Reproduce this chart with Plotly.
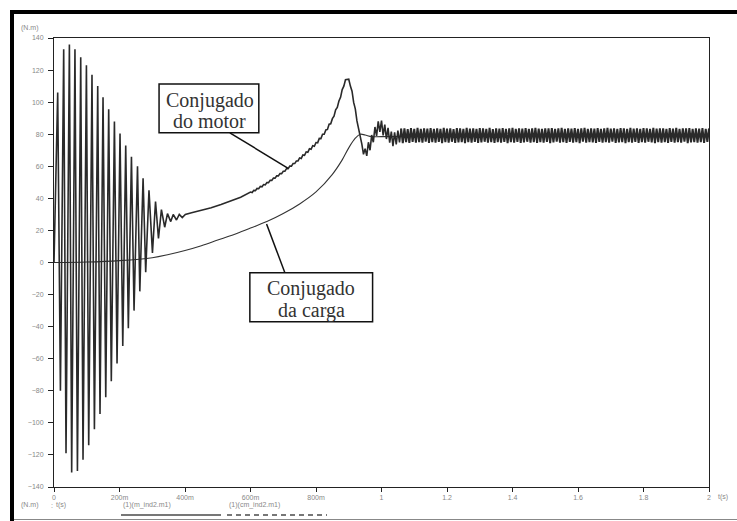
import numpy as np
import plotly.graph_objects as go

# ---------------- data (t in s, torque in N.m) ----------------
# Motor torque: start-up oscillation extrema and early rise
motor_start_t = [0.0, 0.0113, 0.0196, 0.0296, 0.0367, 0.047, 0.054, 0.064, 0.0715, 0.0816,
                 0.0886, 0.099, 0.106, 0.116, 0.1234, 0.1335, 0.1405, 0.1497, 0.158, 0.167,
                 0.175, 0.1845, 0.1925, 0.2016, 0.21, 0.219, 0.227, 0.2365, 0.2444, 0.255,
                 0.262, 0.272, 0.280, 0.290, 0.3006, 0.310, 0.319, 0.328, 0.338, 0.3465,
                 0.3565, 0.364, 0.374, 0.3825, 0.3917, 0.401, 0.42, 0.45, 0.48, 0.51,
                 0.54, 0.57]
motor_start_y = [0, 106, -80, 133, -119, 136, -131, 133, -130, 128,
                 -123, 123, -114, 117, -104, 110, -94.5, 103, -84, 95.5,
                 -74, 88, -63, 80.5, -52, 73, -41, 66, -30, 60,
                 -18, 52.5, -6, 45, 6, 38, 15, 33, 22, 30.5,
                 25.5, 30, 26.5, 30, 28, 30, 31, 32.5, 34.2, 36.2,
                 38.3, 40.7]

# Motor torque: 0.600 s .. 1.060 s sampled every 5 ms (rise, peak, settling)
motor_mid_t0 = 0.600
motor_mid_dt = 0.005
motor_mid_y = [43.9, 43.6, 45.0, 44.8, 46.2, 46.0, 47.4, 47.2, 48.6, 48.4,
               49.9, 49.8, 51.3, 51.2, 52.7, 52.6, 54.1, 54.0, 55.5, 55.4,
               56.9, 56.9, 58.5, 58.5, 60.1, 60.1, 61.7, 61.7, 63.3, 63.3,
               65.2, 64.9, 67.1, 66.8, 69.0, 68.7, 70.9, 70.6, 72.8, 72.5,
               74.8, 74.6, 77.4, 77.3, 80.0, 80.0, 82.7, 83.0, 86.2, 86.5,
               89.7, 91.2, 95.2, 96.7, 100.7,
               103.0, 107.8, 110.0, 114.0, 114.0, 114.3, 110.0, 106.8, 99.8, 95.8,
               88.3, 83.8, 77.3, 73.8,
               67.5, 71.0, 66.5, 75.0, 70.0, 79.5, 75.0, 84.5, 79.0, 88.0,
               81.5, 88.5, 79.3, 86.0, 77.0, 84.0, 74.8, 81.6, 72.5, 81.1,
               73.7, 82.3, 74.9, 83.5]

# Motor torque: steady-state ripple 1.065 s .. 2.000 s every 5 ms
motor_ss_t0 = 1.065
motor_ss_dt = 0.005
motor_ss_y = [74.5, 83.6, 75.0, 83.2, 74.6, 83.8, 75.2, 83.4, 74.8, 83.9, 75.1, 83.3, 74.7, 83.7, 75.3, 83.5, 74.6, 83.8, 75.0, 83.4,
              74.8, 83.6, 75.2, 83.3, 74.5, 83.9, 75.0, 83.5, 74.7, 83.7, 75.3, 83.2, 74.6, 83.8, 74.9, 83.6, 75.1, 83.4, 74.5, 83.9,
              75.0, 83.5, 74.7, 83.7, 75.2, 83.3, 74.6, 83.8, 74.9, 83.6, 75.3, 83.4, 74.8, 83.9, 75.0, 83.2, 74.6, 83.7, 75.1, 83.5,
              74.7, 83.8, 75.2, 83.4, 74.5, 83.6, 75.0, 83.9, 74.8, 83.3, 75.2, 83.7, 74.6, 83.5, 74.9, 83.8, 75.3, 83.4, 74.7, 83.6,
              75.0, 83.9, 74.6, 83.5, 75.1, 83.3, 74.8, 83.7, 75.2, 83.6, 74.5, 83.8, 74.9, 83.4, 75.3, 83.6, 74.7, 83.9, 75.0, 83.3,
              74.6, 83.7, 75.2, 83.5, 74.8, 83.8, 75.0, 83.4, 74.5, 83.6, 75.3, 83.9, 74.7, 83.3, 75.1, 83.7, 74.9, 83.5, 74.6, 83.8,
              75.2, 83.4, 74.8, 83.6, 75.0, 83.9, 74.7, 83.5, 75.3, 83.7, 74.6, 83.3, 74.9, 83.8, 75.1, 83.6, 74.5, 83.4, 75.0, 83.9,
              74.8, 83.5, 75.2, 83.7, 74.6, 83.3, 75.0, 83.8, 74.7, 83.6, 75.3, 83.4, 74.9, 83.9, 74.5, 83.5, 75.1, 83.7, 74.8, 83.6,
              75.0, 83.4, 74.6, 83.8, 75.2, 83.5, 74.7, 83.9, 75.0, 83.3, 74.8, 83.7, 75.3, 83.6, 74.5, 83.8, 74.9, 83.4, 75.1, 83.7,
              74.7, 83.5, 75.0, 83.8, 74.6, 83.4, 75.2, 83.6]

# Load torque
load_t = [0, 0.1, 0.2, 0.3, 0.35, 0.4, 0.45, 0.5, 0.55, 0.6, 0.65, 0.7, 0.75, 0.8,
          0.85, 0.88, 0.9, 0.92, 0.935, 0.95, 0.97, 1.0, 1.5, 2.0]
load_y = [0, 0.3, 1.2, 3, 5, 7.5, 10.5, 14, 17.5, 21.5, 25.5, 30.5, 36.5, 44,
          55, 64, 71.5, 77.5, 80, 79.5, 78.5, 78.5, 79, 79]

x_tickvals = [0, 0.2, 0.4, 0.6, 0.8, 1.0, 1.2, 1.4, 1.6, 1.8, 2.0]
x_ticktext = ["0", "200m", "400m", "600m", "800m", "1", "1.2", "1.4", "1.6", "1.8", "2"]
y_tickvals = [-140, -120, -100, -80, -60, -40, -20, 0, 20, 40, 60, 80, 100, 120, 140]

legend_names = ["(1)(m_ind2.m1)", "(1)(cm_ind2.m1)"]
label_motor = ["Conjugado", "do motor"]
label_load = ["Conjugado", "da carga"]

# ---------------- build series ----------------
assert len(motor_start_t) == len(motor_start_y)
mid_t = np.round(motor_mid_t0 + motor_mid_dt * np.arange(len(motor_mid_y)), 4)
ss_t = np.round(motor_ss_t0 + motor_ss_dt * np.arange(len(motor_ss_y)), 4)
motor_a_t = np.concatenate([motor_start_t, mid_t])
motor_a_y = np.concatenate([motor_start_y, motor_mid_y])
motor_b_t = np.concatenate([mid_t[-1:], ss_t])
motor_b_y = np.concatenate([motor_mid_y[-1:], motor_ss_y])

fig = go.Figure()
fig.add_trace(go.Scatter(x=load_t, y=load_y, mode="lines", line=dict(color="#333", width=1.1, shape="spline"),
                         showlegend=False, hoverinfo="skip"))
fig.add_trace(go.Scatter(x=motor_a_t, y=motor_a_y, mode="lines", line=dict(color="#2a2a2a", width=1.6),
                         showlegend=False, hoverinfo="skip"))
fig.add_trace(go.Scatter(x=motor_b_t, y=motor_b_y, mode="lines", line=dict(color="#2a2a2a", width=2.0),
                         showlegend=False, hoverinfo="skip"))

tickfont = dict(family="Liberation Sans, Arial, sans-serif", size=7, color="#888")
fig.update_xaxes(range=[0, 2], tickvals=x_tickvals, ticktext=x_ticktext, showgrid=False, zeroline=False,
                 showline=True, linecolor="#222", linewidth=1, mirror=True, ticks="outside", ticklen=4,
                 tickcolor="#222", tickfont=tickfont)
fig.update_yaxes(range=[-140, 140], tickvals=y_tickvals, showgrid=False, zeroline=False,
                 showline=True, linecolor="#222", linewidth=1, mirror=True, ticks="outside", ticklen=5,
                 tickcolor="#222", tickfont=tickfont, ticklabelstandoff=3)

L, R, T, B = 54, 28, 38, 34
W, H = 737, 521
pw, ph = W - L - R, H - T - B


def px(xp):
    return (xp - L) / pw


def py(yp):
    return (H - B - yp) / ph


shapes = [
    # outer frame
    dict(type="rect", xref="paper", yref="paper", x0=px(10), x1=px(14), y0=py(521), y1=py(10),
         fillcolor="black", line=dict(width=0)),
    dict(type="rect", xref="paper", yref="paper", x0=px(10), x1=px(737), y0=py(14), y1=py(10),
         fillcolor="black", line=dict(width=0)),
    dict(type="line", xref="paper", yref="paper", x0=px(14), x1=px(737), y0=py(519.5), y1=py(519.5),
         line=dict(color="#888", width=1)),
    # legend lines
    dict(type="line", xref="paper", yref="paper", x0=px(121), x1=px(221), y0=py(515), y1=py(515),
         line=dict(color="#777", width=2)),
    dict(type="line", xref="paper", yref="paper", x0=px(227), x1=px(327), y0=py(515), y1=py(515),
         line=dict(color="#777", width=2, dash="5px,4px")),
    # label boxes
    dict(type="rect", xref="x", yref="y", x0=0.3208, x1=0.6254, y0=80.9, y1=111.3,
         fillcolor="white", line=dict(color="#111", width=1.5)),
    dict(type="rect", xref="x", yref="y", x0=0.598, x1=0.9728, y0=-36.9, y1=-6.36,
         fillcolor="white", line=dict(color="#111", width=1.5)),
    # connectors
    dict(type="line", xref="x", yref="y", x0=0.537, y0=80.9, x1=0.715, y1=58.7,
         line=dict(color="#111", width=1.5)),
    dict(type="line", xref="x", yref="y", x0=0.705, y0=-6.36, x1=0.649, y1=24,
         line=dict(color="#111", width=1.5)),
]

small = dict(family="Liberation Sans, Arial, sans-serif", size=7, color="#888")
serif = dict(family="Liberation Serif, Times New Roman, serif", size=20, color="#333")


def small_text(xp, yp, text, anchor="center"):
    return dict(x=px(xp), y=py(yp), xref="paper", yref="paper", text=text, showarrow=False,
                font=small, xanchor=anchor, yanchor="middle")


ann = [
    small_text(30, 28, "(N.m)"),
    small_text(723, 497, "t(s)"),
    small_text(30, 505, "(N.m)"),
    small_text(52, 505, ":"),
    small_text(61, 505, "t(s)"),
    small_text(121, 505, legend_names[0], "left"),
    small_text(227, 505, legend_names[1], "left"),
    dict(x=0.4757, y=101.3, xref="x", yref="y", text=label_motor[0], showarrow=False, font=serif),
    dict(x=0.4757, y=88.2, xref="x", yref="y", text=label_motor[1], showarrow=False, font=serif),
    dict(x=0.785, y=-15.9, xref="x", yref="y", text=label_load[0], showarrow=False, font=serif),
    dict(x=0.785, y=-30.0, xref="x", yref="y", text=label_load[1], showarrow=False, font=serif),
]

fig.update_layout(width=W, height=H, margin=dict(l=L, r=R, t=T, b=B, pad=0),
                  paper_bgcolor="white", plot_bgcolor="white", shapes=shapes, annotations=ann,
                  showlegend=False)

fig.write_html("out.html", config={"displayModeBar": False},
               post_script="document.body.style.margin='0';document.body.style.padding='0';")
